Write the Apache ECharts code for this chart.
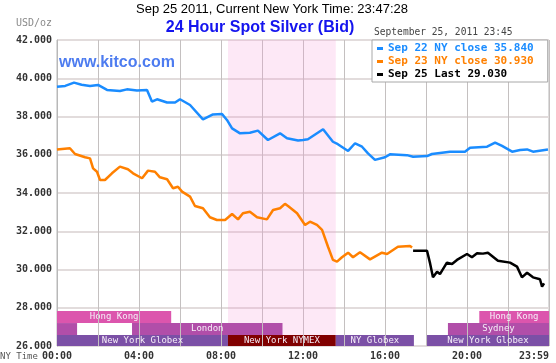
<!DOCTYPE html>
<html><head><meta charset="utf-8">
<script src="https://cdn.jsdelivr.net/npm/echarts@6/dist/echarts.min.js"></script>
<style>html,body{margin:0;padding:0;background:#fff}#c{width:556px;height:363px}</style>
</head><body><div id="c"></div>
<script>
// ---- data (hours of NY day, price USD/oz) ----
const sep22Hours = [0,0.4,0.83,1.2,1.61,2.0,2.44,3.07,3.41,3.9,4.39,4.63,4.88,5.37,5.76,6.0,6.49,7.12,7.61,8.05,8.29,8.54,8.93,9.41,9.8,10.29,10.88,11.22,11.76,12.0,12.24,12.98,13.46,13.7,14.2,14.54,14.88,15.17,15.51,16.0,16.24,17.07,17.37,18.05,18.29,19.17,19.9,20.15,20.98,21.37,21.71,22.2,22.59,22.93,23.22,23.95];
const sep22Values = [39.56,39.6,39.77,39.66,39.6,39.65,39.39,39.33,39.42,39.36,39.39,38.78,38.9,38.73,38.73,38.9,38.6,37.85,38.11,38.13,37.82,37.38,37.12,37.15,37.26,36.77,37.12,36.86,36.74,36.77,36.81,37.33,36.68,36.55,36.2,36.6,36.42,36.07,35.73,35.87,36.02,35.98,35.9,35.93,36.04,36.16,36.16,36.37,36.42,36.63,36.46,36.16,36.25,36.28,36.16,36.28];

const sep23Hours = [0,0.63,0.88,1.37,1.61,1.76,1.95,2.1,2.34,2.68,3.07,3.46,3.71,4.15,4.44,4.78,5.02,5.37,5.66,5.9,6.1,6.49,6.73,7.12,7.46,7.8,8.2,8.54,8.83,9.07,9.41,9.76,10.24,10.54,10.88,11.12,11.27,11.71,12.1,12.34,12.68,12.93,13.22,13.46,13.66,13.9,14.2,14.44,14.78,15.27,15.85,16.1,16.63,17.22,17.32];
const sep23Values = [36.28,36.34,36.04,35.87,35.81,35.29,35.11,34.68,34.68,35.03,35.38,35.24,35.03,34.77,35.17,35.11,34.82,34.72,34.25,34.33,34.07,33.81,33.32,33.2,32.73,32.59,32.59,32.9,32.62,32.94,33.02,32.73,32.62,33.11,33.2,33.43,33.32,32.94,32.33,32.5,32.33,32.07,31.19,30.5,30.41,30.64,30.88,30.64,30.9,30.53,30.88,30.81,31.19,31.23,31.15];

const sep25Hours = [17.37,18.05,18.2,18.34,18.54,18.68,19.02,19.27,19.51,20.0,20.24,20.49,20.78,21.02,21.51,22.1,22.44,22.68,22.93,23.22,23.56,23.66,23.76];
const sep25Values = [30.98,30.98,30.32,29.59,29.88,29.76,30.36,30.29,30.5,30.81,30.64,30.85,30.83,30.88,30.46,30.36,30.15,29.59,29.83,29.59,29.49,29.1,29.28];

const seriesNames = ["Sep 22 NY close 35.840","Sep 23 NY close 30.930","Sep 25 Last 29.030"];

// market session bands
const bandLabels = ["Hong Kong","Hong Kong","","London","Sydney","New York Globex","New York NYMEX","NY Globex","New York Globex"];
const bandMarket = ["hk","hk","lon","lon","syd","glx","nymex","glx","glx"];
const bandStart  = [0,20.6,0,3.66,19.07,0,8.34,13.6,18.05];
const bandEnd    = [5.57,24,0.98,11.0,24,8.34,13.6,17.41,24];
const bandRow    = [2,2,1,1,1,0,0,0,0];
const nymexSession = [8.34, 13.6];

const xMin = 0, xMax = 24, xStep = 2;
const yTicksMin = 26, yTicksMax = 42, yStep = 2;
// ---------------------------------------------

const marketColor = {hk:'#dc55ad', lon:'#b14ea9', syd:'#b14ea9', glx:'#7b50a6', nymex:'#800000'};
const rowEdges = [26, 26.575, 27.2, 27.83];
const gridV = '#c4c0c0';
const mono = '"DejaVu Sans Mono", "Liberation Mono", monospace';
const zip = (a,b)=>a.map((v,i)=>[v,b[i]]);

const chart = echarts.init(document.getElementById('c'), null, {renderer:'canvas'});
const pad = n => (n<10?'0':'')+n;

chart.setOption({
  animation:false,
  backgroundColor:'#fff',
  grid:{left:57,right:7,top:40,bottom:17,show:true,borderColor:'#b8b8b8',borderWidth:1,backgroundColor:'transparent'},
  xAxis:{type:'value',min:xMin,max:xMax,interval:xStep,
    axisLine:{show:false},axisTick:{show:false},
    splitLine:{show:true,lineStyle:{color:gridV,width:1}},
    axisLabel:{margin:5,alignMaxLabel:'right',fontFamily:mono,fontWeight:'bold',fontSize:10,color:'#333',
      formatter:v=> (v%4!==0)?'':(v===24?'23:59':pad(v)+':00')}
  },
  yAxis:{type:'value',min:yTicksMin,max:yTicksMax,interval:yStep,
    axisLine:{show:true,lineStyle:{color:'#b8b8b8'}},axisTick:{show:false},
    splitLine:{show:true,lineStyle:{color:'#e2dcdc',width:2}},
    axisLabel:{margin:5,fontFamily:mono,fontWeight:'bold',fontSize:10,color:'#333',formatter:v=>v.toFixed(3)}
  },
  legend:{orient:'vertical',left:372,top:40,padding:[2,14,1,5],itemWidth:6,itemHeight:3,itemGap:0,icon:'rect',
    backgroundColor:'#fff',borderColor:'#a8a8a8',borderWidth:1,selectedMode:false,z:20,
    textStyle:{fontFamily:mono,fontWeight:'bold',fontSize:11,lineHeight:13},
    data:[{name:seriesNames[0],textStyle:{color:'#1a8cff'}},{name:seriesNames[1],textStyle:{color:'#ff8000'}},{name:seriesNames[2],textStyle:{color:'#000'}}]
  },
  graphic:[
    {type:'text',z:1,style:{text:'Sep 25 2011, Current New York Time: 23:47:28',x:272,y:9,align:'center',verticalAlign:'middle',font:'13px "Liberation Sans", Arial, sans-serif',fill:'#000'}},
    {type:'text',z:1,style:{text:'24 Hour Spot Silver (Bid)',x:260,y:28,align:'center',verticalAlign:'middle',font:'bold 16px "Liberation Sans", Arial, sans-serif',fill:'#1414ee'}},
    {type:'text',z:1,style:{text:'USD/oz',x:16,y:23,align:'left',verticalAlign:'middle',font:'10px '+mono,fill:'#8a8a8a'}},
    {type:'text',z:1,style:{text:'September 25, 2011 23:45',x:374,y:32,align:'left',verticalAlign:'middle',font:'9.6px '+mono,fill:'#444'}},
    {type:'text',z:1,style:{text:'NY Time',x:0,y:357,align:'left',verticalAlign:'middle',font:'9px '+mono,fill:'#555'}},
    {type:'text',z:1,style:{text:'www.kitco.com',x:59,y:63,align:'left',verticalAlign:'middle',font:'bold 16px "Liberation Sans", Arial, sans-serif',fill:'#4d7cf0'}}
  ],
  series:[
    {type:'line',name:'nymex',data:[],z:1,silent:true,
      markArea:{silent:true,itemStyle:{color:'rgba(245,150,215,0.22)'},data:[[{xAxis:nymexSession[0]},{xAxis:nymexSession[1]}]]}},
    {type:'custom',name:'sessions',z:2,silent:true,
      data:bandStart.map((s,i)=>[s,bandEnd[i],bandRow[i]]),
      renderItem:function(params,api){
        const i=params.dataIndex;
        const s=api.value(0), e=api.value(1);
        const p0=api.coord([s,rowEdges[api.value(2)+1]]);
        const p1=api.coord([e,rowEdges[api.value(2)]]);
        const children=[{type:'rect',shape:{x:p0[0],y:p0[1],width:p1[0]-p0[0],height:p1[1]-p0[1]},
          style:{fill:marketColor[bandMarket[i]]},
          textContent:{style:{text:bandLabels[i],fill:'#f6eef8',font:'9px '+mono}},
          textConfig:{position:'inside'}}];
        // grid lines show through the session bars in the original
        for(let t=Math.ceil(s/xStep)*xStep; t<e; t+=xStep){
          if(t<=xMin) continue;
          const x=Math.round(api.coord([t,0])[0])+0.5;
          children.push({type:'line',shape:{x1:x,y1:p0[1],x2:x,y2:p1[1]},style:{stroke:gridV,lineWidth:1},z2:10});
        }
        return {type:'group',children};
      }},
    {type:'line',name:seriesNames[0],data:zip(sep22Hours,sep22Values),z:3,showSymbol:false,symbol:'none',
      lineStyle:{color:'#1a8cff',width:2.5},itemStyle:{color:'#1a8cff'}},
    {type:'line',name:seriesNames[1],data:zip(sep23Hours,sep23Values),z:3,showSymbol:false,symbol:'none',
      lineStyle:{color:'#ff8000',width:2.5},itemStyle:{color:'#ff8000'}},
    {type:'line',name:seriesNames[2],data:zip(sep25Hours,sep25Values),z:3,showSymbol:false,symbol:'none',
      lineStyle:{color:'#000',width:2.5},itemStyle:{color:'#000'}}
  ]
});
</script></body></html>
